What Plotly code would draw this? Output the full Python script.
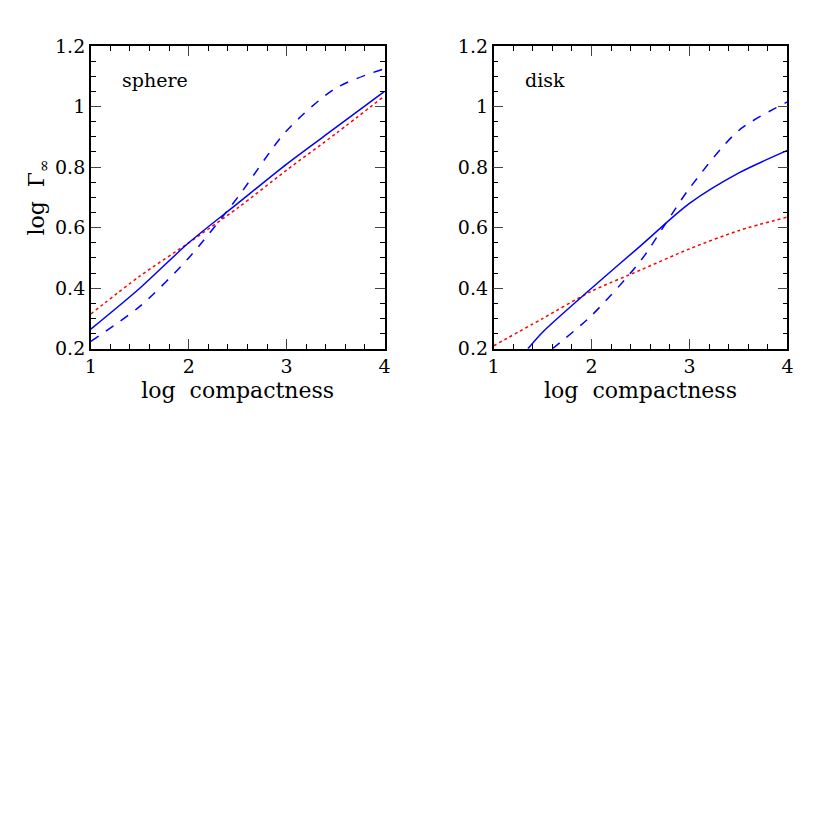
import plotly.graph_objects as go

x = [1, 1.5, 2, 2.5, 3, 3.5, 4]
sph_solid = [0.265, 0.40, 0.55, 0.68, 0.81, 0.93, 1.05]
sph_dash = [0.225, 0.34, 0.50, 0.70, 0.92, 1.06, 1.125]
sph_dot = [0.315, 0.44, 0.55, 0.665, 0.79, 0.91, 1.035]
x_ds = [1.35, 1.5, 2, 2.5, 3, 3.5, 4]
dsk_solid = [0.2, 0.255, 0.40, 0.54, 0.68, 0.78, 0.855]
x_dd = [1.6, 2, 2.5, 2.75, 3, 3.5, 4]
dsk_dash = [0.2, 0.31, 0.49, 0.61, 0.73, 0.92, 1.015]
dsk_dot = [0.21, 0.30, 0.39, 0.46, 0.53, 0.59, 0.635]

fig = go.Figure()
def add(xs, ys, color, dash, ax):
    fig.add_trace(go.Scatter(x=xs, y=ys, mode="lines", line=dict(color=color, dash=dash, width=1.5, shape="spline", smoothing=0.8),
                             xaxis="x" + ax, yaxis="y" + ax, showlegend=False))
add(x, sph_dot, "red", "dot", "")
add(x, sph_solid, "blue", "solid", "")
add(x, sph_dash, "blue", "dash", "")
add(x, dsk_dot, "red", "dot", "2")
add(x_ds, dsk_solid, "blue", "solid", "2")
add(x_dd, dsk_dash, "blue", "dash", "2")

font = dict(family="DejaVu Serif", size=19, color="black")
tfont = dict(family="DejaVu Serif", size=22, color="black")
xa = dict(range=[1, 4], tickvals=[1, 2, 3, 4], ticks="inside", ticklen=10, mirror="allticks", showline=True,
          linecolor="black", linewidth=1.5, showgrid=False, zeroline=False, tickfont=font,
          minor=dict(dtick=0.2, ticks="inside", ticklen=5, tickcolor="black"),
          title=dict(text="log  compactness", font=tfont, standoff=6))
ya = dict(range=[0.2, 1.2], tickvals=[0.2, 0.4, 0.6, 0.8, 1.0, 1.2], ticktext=["0.2", "0.4", "0.6", "0.8", "1", "1.2"],
          ticks="inside", ticklen=10, mirror="allticks", showline=True, linecolor="black", linewidth=1.5,
          showgrid=False, zeroline=False, tickfont=font,
          minor=dict(dtick=0.05, ticks="inside", ticklen=5, tickcolor="black"),
          domain=[0.5918, 0.9667])
fig.update_layout(
    width=830, height=830, margin=dict(l=0, r=0, t=0, b=0), plot_bgcolor="white", paper_bgcolor="white",
    xaxis=dict(xa, domain=[0.0939, 0.4530], anchor="y"),
    yaxis=dict(ya, anchor="x", title=dict(text="log  Γ<sub>∞</sub>", font=tfont, standoff=4)),
    xaxis2=dict(xa, domain=[0.5863, 0.9455], anchor="y2"),
    yaxis2=dict(ya, anchor="x2"),
    annotations=[
        dict(text="sphere", x=0.1, y=0.93, xref="x domain", yref="y domain", xanchor="left", yanchor="top", showarrow=False, font=font),
        dict(text="disk", x=0.1, y=0.93, xref="x2 domain", yref="y2 domain", xanchor="left", yanchor="top", showarrow=False, font=font),
    ],
)
fig.write_html("out.html")
